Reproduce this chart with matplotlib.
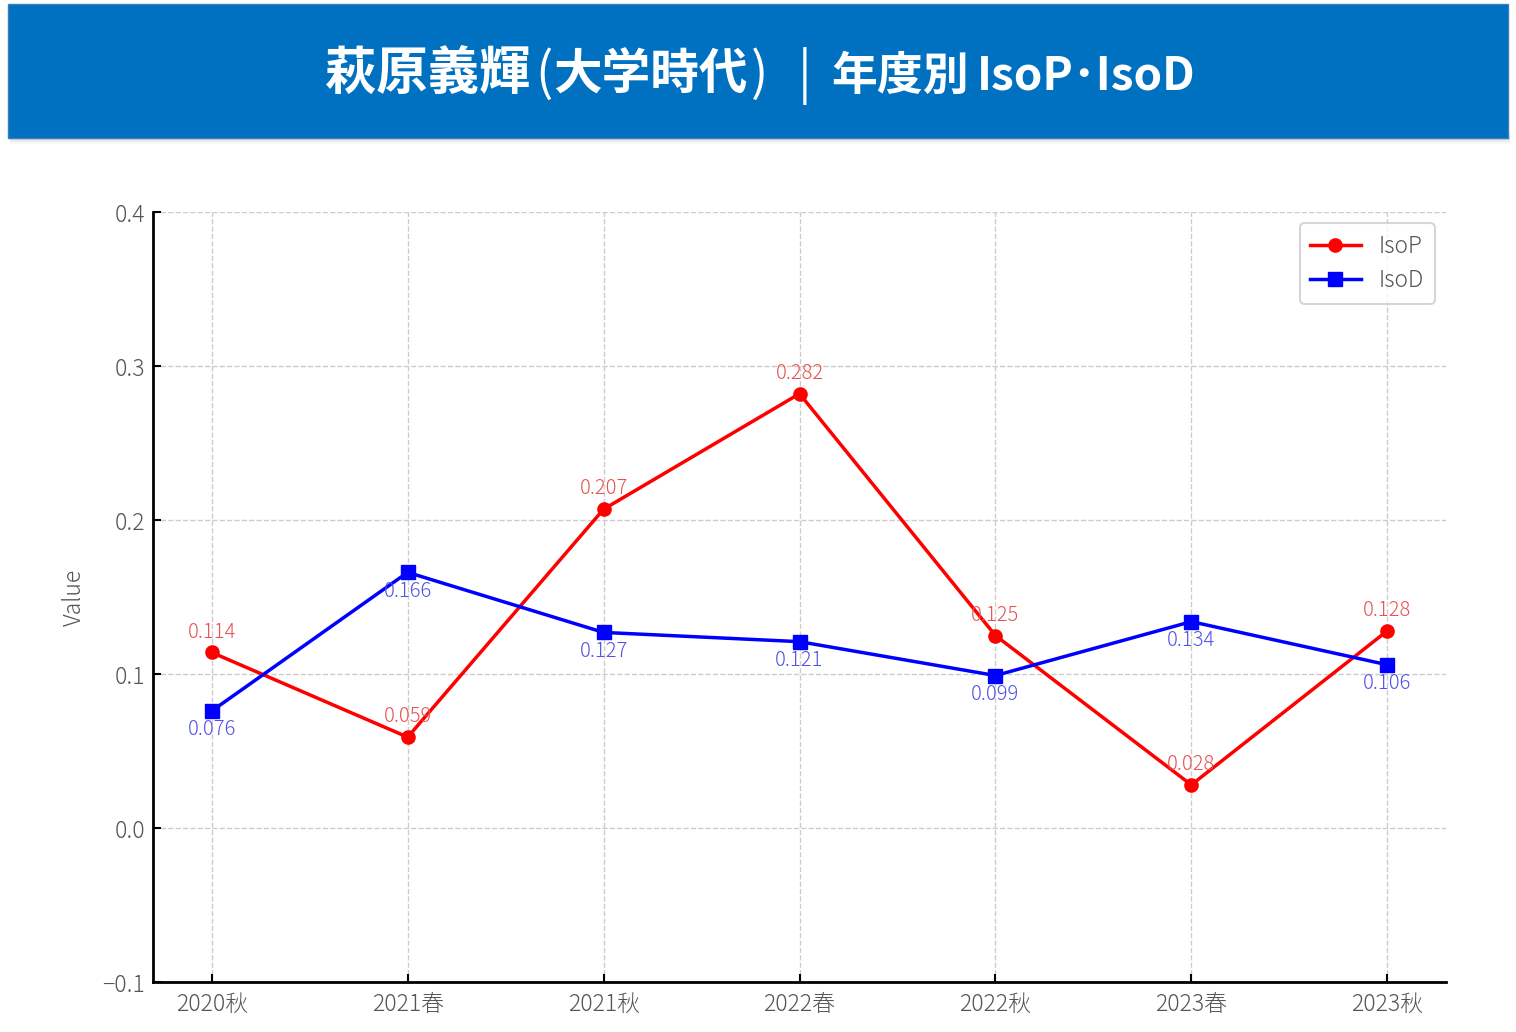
import matplotlib
matplotlib.use("Agg")
import matplotlib.pyplot as plt
from matplotlib.patches import Rectangle

plt.rcParams['font.family'] = ['Noto Sans CJK JP', 'DejaVu Sans']

terms = ["2020秋", "2021春", "2021秋", "2022春", "2022秋", "2023春", "2023秋"]
isop = [0.114, 0.059, 0.207, 0.282, 0.125, 0.028, 0.128]
isod = [0.076, 0.166, 0.127, 0.121, 0.099, 0.134, 0.106]

# タイトルはプロポーショナル詰めに見せるため、部品ごとに置く
# (文字列, 左端x[px], フォントサイズ, 太さ)
title_parts = [
    ("萩原義輝", 325, 37, "bold"),
    ("(", 535, 37, "normal"),
    ("大学時代", 553, 35, "bold"),
    (")", 751, 37, "normal"),
    ("|", 798, 37, "normal"),
    ("年度別", 831, 33, "bold"),
    ("IsoP･IsoD", 977, 33, "bold"),
]

fig = plt.figure(figsize=(15.16, 10.32), dpi=100)

# タイトル帯（影つき）
W, H = 1516, 1032
for i, a in enumerate([0.16, 0.10, 0.05]):
    fig.patches.append(Rectangle((10 / W, 1 - (140 + i * 2) / H), 1500 / W, 6 / H,
                                 transform=fig.transFigure, facecolor="gray",
                                 edgecolor="none", alpha=a, zorder=0))
fig.patches.append(Rectangle((8 / W, 1 - 138 / H), 1500 / W, 134 / H,
                             transform=fig.transFigure, facecolor="#0070C0",
                             edgecolor="#3a7fc0", linewidth=1, zorder=1))
for s, px, fs, fw in title_parts:
    fig.text(px / W, 1 - 90 / H, s, ha="left", va="baseline", color="white",
             fontsize=fs, fontweight=fw, zorder=2)

ax = fig.add_axes([153 / W, 1 - 982 / H, (1446 - 153) / W, (982 - 212) / H])
x = list(range(len(terms)))
ax.plot(x, isop, color="red", marker="o", markersize=9.5, linewidth=2.5, label="IsoP")
ax.plot(x, isod, color="blue", marker="s", markersize=9.5, linewidth=2.5, label="IsoD")

for xi, v in zip(x, isop):
    ax.annotate(f"{v:.3f}", (xi, v), xytext=(0, 7), textcoords="offset points",
                ha="center", va="bottom", color="#e85050", fontsize=14.5, fontweight="light")
for xi, v in zip(x, isod):
    ax.annotate(f"{v:.3f}", (xi, v), xytext=(0, -6), textcoords="offset points",
                ha="center", va="top", color="#5050e8", fontsize=14.5, fontweight="light")

ax.set_xlim(-0.3, 6.3)
ax.set_ylim(-0.1, 0.4)
ax.set_yticks([-0.1, 0.0, 0.1, 0.2, 0.3, 0.4])
ax.set_yticklabels(["−0.1", "0.0", "0.1", "0.2", "0.3", "0.4"])
ax.set_xticks(x)
ax.set_xticklabels(terms)
ax.tick_params(direction="in", length=6, width=1.5, labelsize=16.5, labelcolor="#555555")
ax.tick_params(axis="x", pad=7)
ax.tick_params(axis="y", pad=5.5)
for lbl in ax.get_xticklabels() + ax.get_yticklabels():
    lbl.set_fontweight("light")
ax.set_ylabel("Value", fontsize=16.5, color="#555555", fontweight="light", labelpad=11)

ax.spines["top"].set_visible(False)
ax.spines["right"].set_visible(False)
ax.spines["left"].set_linewidth(2)
ax.spines["bottom"].set_linewidth(2)
ax.grid(True, linestyle="--", color="#cccccc", linewidth=1)
ax.set_axisbelow(True)

leg = ax.legend(loc="upper right", fontsize=16.5, frameon=True, fancybox=True,
                borderpad=0.45, handlelength=2.2, labelspacing=0.42)
leg.get_frame().set_edgecolor("#cccccc")
leg.get_frame().set_linewidth(1.5)
for t in leg.get_texts():
    t.set_color("#555555")
    t.set_fontweight("light")

fig.savefig("out.png", dpi=100)
